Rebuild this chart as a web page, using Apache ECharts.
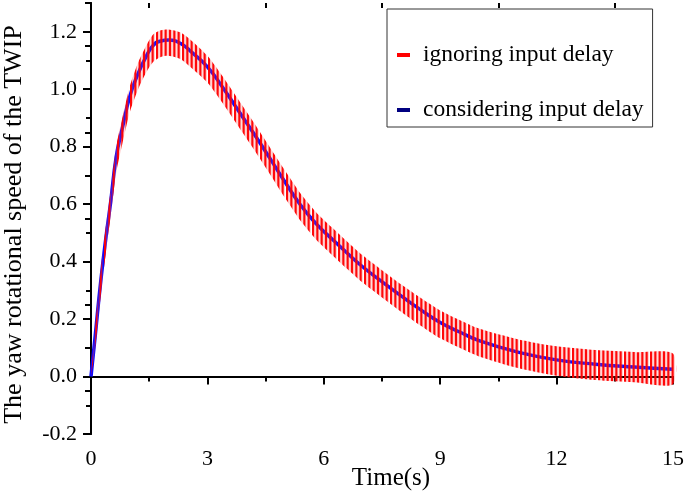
<!DOCTYPE html>
<html><head><meta charset="utf-8">
<script src="https://cdn.jsdelivr.net/npm/echarts@6/dist/echarts.min.js"></script>
<style>html,body{margin:0;padding:0;background:#fff}#c{width:685px;height:494px}</style>
</head><body><div id="c"></div>
<script>
// ---- data ----
const time = [0, 0.1, 0.25, 0.4, 0.5, 0.65, 0.8, 1.0, 1.2, 1.4, 1.6, 1.8, 2.0, 2.3, 2.6, 3.0, 3.4, 3.8, 4.2, 4.6, 5.0, 5.4, 5.8, 6.2, 6.6, 7.0, 7.5, 8.0, 8.5, 9.0, 9.5, 10, 11, 12, 13, 14, 15];
const considering = [0, 0.13, 0.33, 0.5, 0.6, 0.765, 0.86, 0.975, 1.05, 1.108, 1.152, 1.168, 1.171, 1.16, 1.128, 1.078, 1.005, 0.925, 0.845, 0.762, 0.677, 0.597, 0.532, 0.48, 0.43, 0.382, 0.33, 0.28, 0.232, 0.188, 0.155, 0.125, 0.085, 0.058, 0.043, 0.033, 0.025];
const ignoringUpper = [0, 0.16, 0.37, 0.54, 0.64, 0.8, 0.895, 1.01, 1.088, 1.145, 1.19, 1.205, 1.208, 1.198, 1.168, 1.116, 1.043, 0.963, 0.883, 0.8, 0.717, 0.637, 0.572, 0.52, 0.47, 0.422, 0.37, 0.32, 0.273, 0.23, 0.197, 0.167, 0.13, 0.105, 0.092, 0.085, 0.08];
const ignoringLower = [0, 0.09, 0.28, 0.45, 0.55, 0.71, 0.805, 0.92, 0.995, 1.053, 1.095, 1.112, 1.116, 1.105, 1.073, 1.023, 0.95, 0.87, 0.79, 0.707, 0.622, 0.542, 0.477, 0.425, 0.375, 0.327, 0.275, 0.225, 0.177, 0.133, 0.1, 0.07, 0.03, 0.003, -0.012, -0.02, -0.027];
const xMajorTicks = [0, 3, 6, 9, 12, 15];
const xMinorTicks = [1.5, 4.5, 7.5, 10.5, 13.5];
const yMajorTicks = [-0.2, 0, 0.2, 0.4, 0.6, 0.8, 1.0, 1.2];
const yMinorTicks = [-0.1, 0.1, 0.3, 0.5, 0.7, 0.9, 1.1];
const yRightTicks = [-0.2, -0.05, 0.1, 0.25, 0.4, 0.55, 0.7, 0.85, 1.0, 1.15, 1.3];
const seriesNames = ['ignoring input delay', 'considering input delay'];
const xTitle = 'Time(s)';
const yTitle = 'The yaw rotational speed of the TWIP';

// ---- styling ----
const FONT = "'Liberation Serif', 'Times New Roman', serif";
const X_MIN = 0, X_MAX = 15, Y_MIN = -0.2, Y_MAX = 1.3;

// vertical red hatch pattern for the oscillating response
const pat = document.createElement('canvas');
pat.width = 26; pat.height = 2;
const pctx = pat.getContext('2d');
for (let k = 0; k < 6; k++) {
  const x0 = k * 26 / 6;
  pctx.fillStyle = 'rgba(255,70,70,0.4)';
  pctx.fillRect(x0 - 0.9, 0, 3.8, 2);
  pctx.fillStyle = 'rgba(255,0,0,0.95)';
  pctx.fillRect(x0, 0, 2, 2);
}

const lineStyleAxis = { show: true, lineStyle: { color: '#000', width: 2 } };
function xAx(pos, ticks, len, inside, extra) {
  return Object.assign({
    type: 'value', position: pos, min: X_MIN, max: X_MAX,
    axisLine: { show: false },
    axisTick: { show: true, inside: inside, length: len, customValues: ticks, lineStyle: { color: '#000', width: 2 } },
    axisLabel: { show: false },
    splitLine: { show: false }
  }, extra || {});
}
function yAx(pos, ticks, len, inside, extra) {
  return Object.assign({
    type: 'value', position: pos, min: Y_MIN, max: Y_MAX,
    axisLine: { show: false },
    axisTick: { show: true, inside: inside, length: len, customValues: ticks, lineStyle: { color: '#000', width: 2 } },
    axisLabel: { show: false },
    splitLine: { show: false }
  }, extra || {});
}

const xAxes = [
  xAx('bottom', xMajorTicks, 8, false, {
    axisLine: lineStyleAxis,
    axisLabel: { show: true, customValues: xMajorTicks, color: '#000', fontFamily: FONT, fontSize: 22, margin: 14,
      formatter: v => String(Math.round(v)) },
    name: xTitle, nameLocation: 'middle', nameGap: 32, nameMoveOverlap: false,
    nameTextStyle: { color: '#000', fontFamily: FONT, fontSize: 25, padding: [0, 0, 0, 18] }
  }),
  xAx('bottom', xMinorTicks, 5, false),
  xAx('top', xMajorTicks, 8, true, { axisLine: lineStyleAxis }),
  xAx('top', xMinorTicks, 5, true)
];
const yAxes = [
  yAx('left', yMajorTicks, 8, false, {
    axisLine: lineStyleAxis,
    axisLabel: { show: true, customValues: yMajorTicks, color: '#000', fontFamily: FONT, fontSize: 22, margin: 14,
      formatter: v => v.toFixed(1) },
    name: yTitle, nameLocation: 'middle', nameGap: 64, nameMoveOverlap: false,
    nameTextStyle: { color: '#000', fontFamily: FONT, fontSize: 26, padding: [0, 12, 0, 0] }
  }),
  yAx('left', yMinorTicks, 5, false),
  yAx('right', yRightTicks, 6, true, { axisLine: lineStyleAxis })
];

const bandData = time.map((t, i) => [t, ignoringUpper[i], ignoringLower[i]]);

function renderBand(params, api) {
  if (params.dataIndex !== 0) return null;
  const up = [], lo = [];
  for (let i = 0; i < time.length; i++) {
    up.push(api.coord([time[i], ignoringUpper[i]]));
    lo.push(api.coord([time[i], ignoringLower[i]]));
  }
  const points = up.concat(lo.reverse());
  return {
    type: 'polygon',
    shape: { points: points, smooth: 0.25 },
    style: { fill: { image: pat, repeat: 'repeat' } }
  };
}

const option = {
  animation: false,
  backgroundColor: '#fff',
  grid: { left: 91, right: 12, top: 3, bottom: 60, containLabel: false, outerBoundsMode: 'none' },
  xAxis: xAxes,
  yAxis: yAxes,
  legend: {
    orient: 'vertical', left: 387, top: 9,
    padding: [33, 9, 4, 10], itemGap: 29,
    itemWidth: 13, itemHeight: 4,
    borderColor: '#333', borderWidth: 1, backgroundColor: '#fff',
    selectedMode: false,
    textStyle: { color: '#000', fontFamily: FONT, fontSize: 23.5, lineHeight: 26, padding: [0, 0, 0, 8] },
    data: [
      { name: seriesNames[0], icon: 'rect', itemStyle: { color: '#ff0000' } },
      { name: seriesNames[1], icon: 'rect', itemStyle: { color: '#000080' } }
    ]
  },
  series: [
    {
      name: seriesNames[1], type: 'line', data: time.map((t, i) => [t, considering[i]]),
      smooth: 0.5, showSymbol: false, color: '#0a0aff',
      lineStyle: { color: '#0a0aff', width: 3.5 }, z: 2
    },
    {
      name: seriesNames[0], type: 'custom', data: bandData,
      encode: { x: 0, y: [1, 2] }, color: '#ff0000',
      renderItem: renderBand, z: 3
    }
  ]
};
const chart = echarts.init(document.getElementById('c'), null, { renderer: 'canvas' });
chart.setOption(option);
</script></body></html>
